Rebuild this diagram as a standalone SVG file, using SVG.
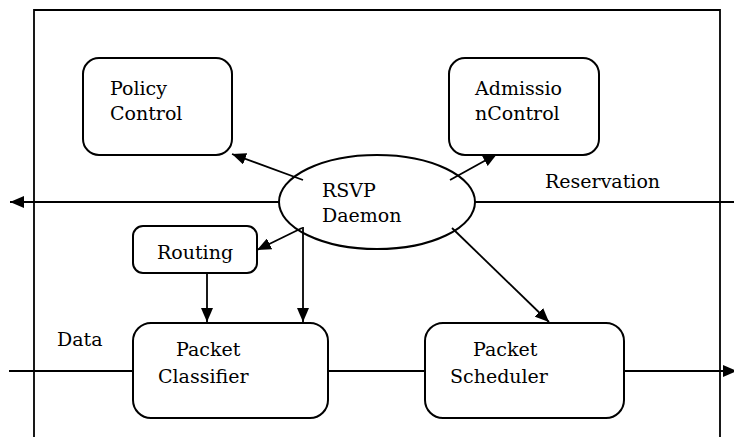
<svg xmlns="http://www.w3.org/2000/svg" width="734" height="437" viewBox="0 0 734 437">
  <style>
    .box { fill: #fff; stroke: #000; stroke-width: 2; }
    .oval { fill: none; stroke: #000; stroke-width: 2; }
    .line { fill: none; stroke: #000; stroke-width: 1.8; }
    .lbl { font-family: "DejaVu Serif", "Liberation Serif", serif; font-size: 19px; fill: #000; }
  </style>
  <defs>
    <marker id="arr" viewBox="0 0 14 12" refX="14" refY="6" markerWidth="14" markerHeight="12" markerUnits="userSpaceOnUse" orient="auto">
      <path d="M0,0 L14,6 L0,12 Z" fill="#000"/>
    </marker>
  </defs>

  <rect width="734" height="437" fill="#fff"/>

  <!-- enclosing router frame (open at the bottom) -->
  <g id="frame">
    <path class="line" d="M34,437 L34,10 L720,10 L720,437"/>
  </g>

  <!-- reservation and data paths plus control connectors -->
  <g id="connectors">
    <line class="line" x1="279" y1="202" x2="10" y2="202" marker-end="url(#arr)"/>
    <line class="line" x1="475" y1="202" x2="734" y2="202"/>
    <line class="line" x1="9" y1="371" x2="133" y2="371"/>
    <line class="line" x1="328" y1="371" x2="425" y2="371"/>
    <line class="line" x1="624" y1="371" x2="737" y2="371" marker-end="url(#arr)"/>
    <line class="line" x1="303" y1="180" x2="232" y2="154" marker-end="url(#arr)"/>
    <line class="line" x1="450" y1="180" x2="497" y2="154" marker-end="url(#arr)"/>
    <line class="line" x1="302" y1="228" x2="257" y2="250" marker-end="url(#arr)"/>
    <line class="line" x1="303" y1="227" x2="303" y2="322" marker-end="url(#arr)"/>
    <line class="line" x1="207" y1="273" x2="207" y2="322" marker-end="url(#arr)"/>
    <line class="line" x1="452" y1="228" x2="549" y2="322" marker-end="url(#arr)"/>
  </g>

  <g id="policy-control">
    <rect class="box" x="83" y="58" width="149" height="97" rx="16"/>
    <text class="lbl" x="110" y="95">Policy</text>
    <text class="lbl" x="110" y="120">Control</text>
  </g>

  <g id="admission-control">
    <rect class="box" x="449" y="58" width="150" height="97" rx="16"/>
    <text class="lbl" x="475" y="95">Admissio</text>
    <text class="lbl" x="475" y="120">nControl</text>
  </g>

  <g id="rsvp-daemon">
    <ellipse class="oval" cx="377" cy="202" rx="98" ry="47"/>
    <text class="lbl" x="322" y="197">RSVP</text>
    <text class="lbl" x="322" y="222">Daemon</text>
  </g>

  <g id="routing">
    <rect class="box" x="133" y="226" width="124" height="47" rx="10"/>
    <text class="lbl" x="195" y="259" text-anchor="middle">Routing</text>
  </g>

  <g id="packet-classifier">
    <rect class="box" x="133" y="323" width="195" height="95" rx="18"/>
    <text class="lbl" x="176" y="356">Packet</text>
    <text class="lbl" x="158" y="383">Classifier</text>
  </g>

  <g id="packet-scheduler">
    <rect class="box" x="425" y="323" width="199" height="95" rx="18"/>
    <text class="lbl" x="473" y="356">Packet</text>
    <text class="lbl" x="450" y="383">Scheduler</text>
  </g>

  <text class="lbl" x="545" y="188">Reservation</text>
  <text class="lbl" x="57" y="346">Data</text>
</svg>
